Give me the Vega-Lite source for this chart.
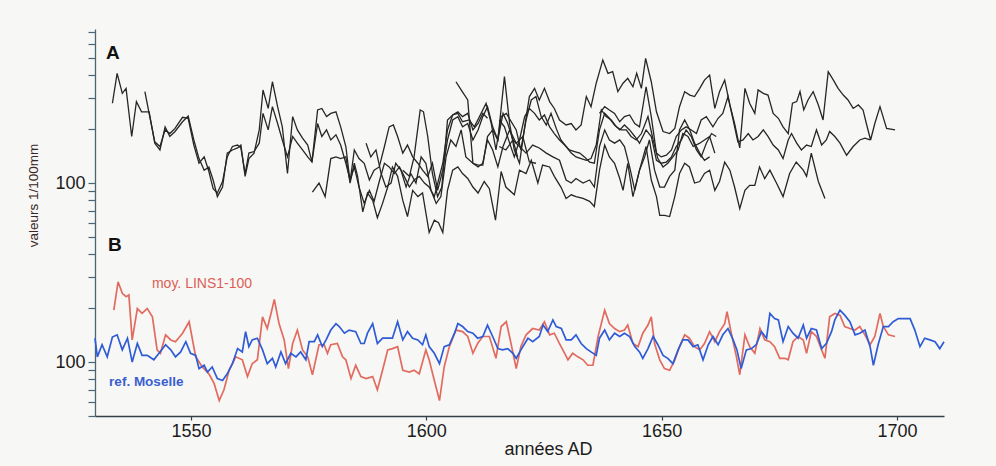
{
"$schema": "https://vega.github.io/schema/vega-lite/v6.json",
"width": 849, "height": 387,
"autosize": {"type": "none"},
"padding": {"left": 95, "top": 29, "right": 52, "bottom": 50},
"background": "#f7f7f5",
"config": {"font": "Liberation Sans", "view": {"stroke": null}},
"datasets": {
"ringsB": [
{"id":"LINS","year":1533.6,"val":195},{"id":"LINS","year":1534.5,"val":281},{"id":"LINS","year":1535.4,"val":242},{"id":"LINS","year":1536.2,"val":232},{"id":"LINS","year":1536.8,"val":237},{"id":"LINS","year":1537.5,"val":133},{"id":"LINS","year":1538.6,"val":199},{"id":"LINS","year":1539.6,"val":187},{"id":"LINS","year":1540.7,"val":199},{"id":"LINS","year":1541.8,"val":179},{"id":"LINS","year":1542.8,"val":117},{"id":"LINS","year":1543.5,"val":112},{"id":"LINS","year":1544.6,"val":142},{"id":"LINS","year":1545.7,"val":133},{"id":"LINS","year":1546.7,"val":130},{"id":"LINS","year":1548.2,"val":145},{"id":"LINS","year":1549.6,"val":168},{"id":"LINS","year":1551.0,"val":107},{"id":"LINS","year":1552.4,"val":94},{"id":"LINS","year":1553.8,"val":86},{"id":"LINS","year":1554.9,"val":76},{"id":"LINS","year":1556.0,"val":61},{"id":"LINS","year":1557.0,"val":70},{"id":"LINS","year":1558.1,"val":90},{"id":"LINS","year":1559.5,"val":107},{"id":"LINS","year":1560.9,"val":103},{"id":"LINS","year":1562.0,"val":83},{"id":"LINS","year":1563.0,"val":98},{"id":"LINS","year":1564.1,"val":103},{"id":"LINS","year":1565.2,"val":179},{"id":"LINS","year":1566.2,"val":154},{"id":"LINS","year":1567.0,"val":187},{"id":"LINS","year":1567.7,"val":224},{"id":"LINS","year":1568.7,"val":164},{"id":"LINS","year":1569.8,"val":133},{"id":"LINS","year":1570.7,"val":92},{"id":"LINS","year":1571.6,"val":127},{"id":"LINS","year":1572.6,"val":151},{"id":"LINS","year":1573.7,"val":117},{"id":"LINS","year":1574.8,"val":107},{"id":"LINS","year":1575.8,"val":85},{"id":"LINS","year":1577.2,"val":125},{"id":"LINS","year":1578.3,"val":125},{"id":"LINS","year":1579.0,"val":112},{"id":"LINS","year":1579.7,"val":125},{"id":"LINS","year":1581.1,"val":127},{"id":"LINS","year":1582.2,"val":107},{"id":"LINS","year":1582.9,"val":103},{"id":"LINS","year":1584.0,"val":81},{"id":"LINS","year":1585.0,"val":96},{"id":"LINS","year":1586.1,"val":83},{"id":"LINS","year":1587.2,"val":81},{"id":"LINS","year":1588.6,"val":83},{"id":"LINS","year":1589.6,"val":70},{"id":"LINS","year":1590.7,"val":90},{"id":"LINS","year":1591.8,"val":117},{"id":"LINS","year":1592.8,"val":119},{"id":"LINS","year":1593.9,"val":122},{"id":"LINS","year":1595.0,"val":90},{"id":"LINS","year":1596.4,"val":88},{"id":"LINS","year":1597.4,"val":90},{"id":"LINS","year":1598.5,"val":86},{"id":"LINS","year":1599.9,"val":117},{"id":"LINS","year":1600.6,"val":103},{"id":"LINS","year":1601.7,"val":79},{"id":"LINS","year":1602.8,"val":61},{"id":"LINS","year":1603.8,"val":94},{"id":"LINS","year":1604.9,"val":122},{"id":"LINS","year":1606.3,"val":151},{"id":"LINS","year":1607.7,"val":148},{"id":"LINS","year":1608.8,"val":139},{"id":"LINS","year":1609.9,"val":112},{"id":"LINS","year":1610.9,"val":127},{"id":"LINS","year":1612.0,"val":139},{"id":"LINS","year":1613.4,"val":139},{"id":"LINS","year":1614.8,"val":105},{"id":"LINS","year":1615.9,"val":158},{"id":"LINS","year":1617.0,"val":168},{"id":"LINS","year":1618.0,"val":127},{"id":"LINS","year":1619.1,"val":92},{"id":"LINS","year":1620.1,"val":122},{"id":"LINS","year":1621.2,"val":142},{"id":"LINS","year":1622.6,"val":154},{"id":"LINS","year":1624.0,"val":151},{"id":"LINS","year":1625.1,"val":168},{"id":"LINS","year":1626.2,"val":142},{"id":"LINS","year":1627.2,"val":145},{"id":"LINS","year":1628.3,"val":127},{"id":"LINS","year":1629.4,"val":112},{"id":"LINS","year":1630.1,"val":103},{"id":"LINS","year":1631.1,"val":112},{"id":"LINS","year":1632.2,"val":107},{"id":"LINS","year":1633.3,"val":103},{"id":"LINS","year":1634.3,"val":96},{"id":"LINS","year":1635.4,"val":96},{"id":"LINS","year":1636.5,"val":139},{"id":"LINS","year":1637.9,"val":195},{"id":"LINS","year":1638.9,"val":164},{"id":"LINS","year":1640.0,"val":154},{"id":"LINS","year":1641.1,"val":148},{"id":"LINS","year":1642.1,"val":151},{"id":"LINS","year":1642.8,"val":161},{"id":"LINS","year":1643.9,"val":127},{"id":"LINS","year":1645.0,"val":122},{"id":"LINS","year":1646.0,"val":145},{"id":"LINS","year":1647.1,"val":161},{"id":"LINS","year":1647.8,"val":179},{"id":"LINS","year":1648.5,"val":127},{"id":"LINS","year":1649.6,"val":103},{"id":"LINS","year":1650.6,"val":92},{"id":"LINS","year":1651.7,"val":90},{"id":"LINS","year":1652.8,"val":103},{"id":"LINS","year":1653.8,"val":122},{"id":"LINS","year":1654.9,"val":142},{"id":"LINS","year":1655.9,"val":136},{"id":"LINS","year":1657.0,"val":122},{"id":"LINS","year":1658.1,"val":117},{"id":"LINS","year":1659.1,"val":127},{"id":"LINS","year":1660.2,"val":148},{"id":"LINS","year":1661.3,"val":130},{"id":"LINS","year":1662.3,"val":148},{"id":"LINS","year":1663.4,"val":164},{"id":"LINS","year":1663.9,"val":191},{"id":"LINS","year":1664.8,"val":145},{"id":"LINS","year":1665.9,"val":107},{"id":"LINS","year":1666.6,"val":85},{"id":"LINS","year":1667.7,"val":142},{"id":"LINS","year":1668.7,"val":122},{"id":"LINS","year":1669.8,"val":112},{"id":"LINS","year":1670.9,"val":154},{"id":"LINS","year":1671.9,"val":133},{"id":"LINS","year":1673.0,"val":130},{"id":"LINS","year":1674.0,"val":122},{"id":"LINS","year":1675.1,"val":105},{"id":"LINS","year":1676.2,"val":105},{"id":"LINS","year":1676.9,"val":103},{"id":"LINS","year":1677.9,"val":130},{"id":"LINS","year":1679.0,"val":139},{"id":"LINS","year":1680.1,"val":133},{"id":"LINS","year":1680.8,"val":112},{"id":"LINS","year":1681.8,"val":148},{"id":"LINS","year":1682.9,"val":139},{"id":"LINS","year":1684.0,"val":117},{"id":"LINS","year":1684.7,"val":105},{"id":"LINS","year":1685.7,"val":179},{"id":"LINS","year":1686.8,"val":187},{"id":"LINS","year":1687.9,"val":183},{"id":"LINS","year":1688.9,"val":158},{"id":"LINS","year":1690.0,"val":154},{"id":"LINS","year":1691.1,"val":151},{"id":"LINS","year":1692.1,"val":158},{"id":"LINS","year":1693.2,"val":142},{"id":"LINS","year":1694.3,"val":125},{"id":"LINS","year":1695.3,"val":139},{"id":"LINS","year":1696.4,"val":187},{"id":"LINS","year":1697.1,"val":158},{"id":"LINS","year":1698.2,"val":142},{"id":"LINS","year":1699.6,"val":139},
{"id":"Moselle","year":1529.6,"val":136},{"id":"Moselle","year":1530.1,"val":107},{"id":"Moselle","year":1531.1,"val":125},{"id":"Moselle","year":1532.2,"val":107},{"id":"Moselle","year":1533.3,"val":138},{"id":"Moselle","year":1534.3,"val":142},{"id":"Moselle","year":1535.4,"val":117},{"id":"Moselle","year":1536.5,"val":136},{"id":"Moselle","year":1537.5,"val":100},{"id":"Moselle","year":1538.6,"val":127},{"id":"Moselle","year":1539.6,"val":109},{"id":"Moselle","year":1540.7,"val":109},{"id":"Moselle","year":1542.1,"val":103},{"id":"Moselle","year":1543.2,"val":112},{"id":"Moselle","year":1544.6,"val":125},{"id":"Moselle","year":1545.7,"val":117},{"id":"Moselle","year":1546.7,"val":107},{"id":"Moselle","year":1547.8,"val":114},{"id":"Moselle","year":1548.9,"val":130},{"id":"Moselle","year":1549.9,"val":112},{"id":"Moselle","year":1551.0,"val":109},{"id":"Moselle","year":1551.7,"val":92},{"id":"Moselle","year":1552.8,"val":96},{"id":"Moselle","year":1553.5,"val":88},{"id":"Moselle","year":1554.5,"val":94},{"id":"Moselle","year":1555.6,"val":81},{"id":"Moselle","year":1556.7,"val":79},{"id":"Moselle","year":1557.7,"val":86},{"id":"Moselle","year":1558.8,"val":98},{"id":"Moselle","year":1559.9,"val":119},{"id":"Moselle","year":1560.9,"val":114},{"id":"Moselle","year":1561.6,"val":148},{"id":"Moselle","year":1562.3,"val":122},{"id":"Moselle","year":1563.0,"val":133},{"id":"Moselle","year":1564.1,"val":136},{"id":"Moselle","year":1565.2,"val":117},{"id":"Moselle","year":1566.2,"val":98},{"id":"Moselle","year":1567.3,"val":105},{"id":"Moselle","year":1568.0,"val":94},{"id":"Moselle","year":1569.1,"val":114},{"id":"Moselle","year":1570.1,"val":98},{"id":"Moselle","year":1571.2,"val":112},{"id":"Moselle","year":1572.3,"val":107},{"id":"Moselle","year":1573.3,"val":114},{"id":"Moselle","year":1574.4,"val":103},{"id":"Moselle","year":1575.1,"val":130},{"id":"Moselle","year":1576.2,"val":130},{"id":"Moselle","year":1576.9,"val":142},{"id":"Moselle","year":1577.9,"val":122},{"id":"Moselle","year":1578.7,"val":133},{"id":"Moselle","year":1579.7,"val":151},{"id":"Moselle","year":1580.8,"val":164},{"id":"Moselle","year":1581.5,"val":158},{"id":"Moselle","year":1582.6,"val":145},{"id":"Moselle","year":1583.6,"val":151},{"id":"Moselle","year":1585.0,"val":148},{"id":"Moselle","year":1586.1,"val":127},{"id":"Moselle","year":1586.8,"val":127},{"id":"Moselle","year":1587.5,"val":145},{"id":"Moselle","year":1588.6,"val":164},{"id":"Moselle","year":1589.6,"val":127},{"id":"Moselle","year":1590.7,"val":136},{"id":"Moselle","year":1591.8,"val":136},{"id":"Moselle","year":1592.8,"val":136},{"id":"Moselle","year":1593.9,"val":168},{"id":"Moselle","year":1595.0,"val":133},{"id":"Moselle","year":1596.0,"val":148},{"id":"Moselle","year":1597.1,"val":136},{"id":"Moselle","year":1598.2,"val":133},{"id":"Moselle","year":1599.2,"val":125},{"id":"Moselle","year":1599.9,"val":142},{"id":"Moselle","year":1600.6,"val":122},{"id":"Moselle","year":1601.7,"val":112},{"id":"Moselle","year":1602.8,"val":98},{"id":"Moselle","year":1603.8,"val":122},{"id":"Moselle","year":1604.9,"val":125},{"id":"Moselle","year":1606.0,"val":145},{"id":"Moselle","year":1606.7,"val":164},{"id":"Moselle","year":1607.7,"val":158},{"id":"Moselle","year":1608.8,"val":148},{"id":"Moselle","year":1609.9,"val":145},{"id":"Moselle","year":1610.9,"val":136},{"id":"Moselle","year":1612.0,"val":139},{"id":"Moselle","year":1613.0,"val":161},{"id":"Moselle","year":1614.1,"val":139},{"id":"Moselle","year":1615.2,"val":119},{"id":"Moselle","year":1616.2,"val":117},{"id":"Moselle","year":1617.3,"val":119},{"id":"Moselle","year":1618.4,"val":112},{"id":"Moselle","year":1619.1,"val":105},{"id":"Moselle","year":1620.1,"val":117},{"id":"Moselle","year":1621.6,"val":136},{"id":"Moselle","year":1622.6,"val":130},{"id":"Moselle","year":1624.0,"val":139},{"id":"Moselle","year":1624.8,"val":161},{"id":"Moselle","year":1625.8,"val":148},{"id":"Moselle","year":1626.9,"val":172},{"id":"Moselle","year":1627.6,"val":158},{"id":"Moselle","year":1628.7,"val":154},{"id":"Moselle","year":1629.7,"val":133},{"id":"Moselle","year":1630.8,"val":133},{"id":"Moselle","year":1631.8,"val":142},{"id":"Moselle","year":1632.9,"val":127},{"id":"Moselle","year":1634.0,"val":119},{"id":"Moselle","year":1635.0,"val":114},{"id":"Moselle","year":1636.1,"val":109},{"id":"Moselle","year":1636.8,"val":136},{"id":"Moselle","year":1637.9,"val":151},{"id":"Moselle","year":1638.9,"val":133},{"id":"Moselle","year":1640.0,"val":145},{"id":"Moselle","year":1641.1,"val":139},{"id":"Moselle","year":1642.1,"val":145},{"id":"Moselle","year":1643.2,"val":139},{"id":"Moselle","year":1644.3,"val":122},{"id":"Moselle","year":1645.3,"val":114},{"id":"Moselle","year":1646.0,"val":105},{"id":"Moselle","year":1647.1,"val":119},{"id":"Moselle","year":1648.2,"val":139},{"id":"Moselle","year":1649.2,"val":125},{"id":"Moselle","year":1650.3,"val":109},{"id":"Moselle","year":1651.3,"val":105},{"id":"Moselle","year":1652.4,"val":98},{"id":"Moselle","year":1653.5,"val":117},{"id":"Moselle","year":1654.5,"val":133},{"id":"Moselle","year":1655.6,"val":133},{"id":"Moselle","year":1656.7,"val":122},{"id":"Moselle","year":1657.7,"val":125},{"id":"Moselle","year":1658.8,"val":103},{"id":"Moselle","year":1659.9,"val":125},{"id":"Moselle","year":1660.9,"val":139},{"id":"Moselle","year":1662.0,"val":125},{"id":"Moselle","year":1663.0,"val":142},{"id":"Moselle","year":1664.1,"val":154},{"id":"Moselle","year":1665.2,"val":133},{"id":"Moselle","year":1666.0,"val":117},{"id":"Moselle","year":1666.9,"val":92},{"id":"Moselle","year":1668.0,"val":117},{"id":"Moselle","year":1669.1,"val":119},{"id":"Moselle","year":1670.1,"val":125},{"id":"Moselle","year":1671.2,"val":148},{"id":"Moselle","year":1672.3,"val":136},{"id":"Moselle","year":1673.0,"val":187},{"id":"Moselle","year":1674.0,"val":175},{"id":"Moselle","year":1674.8,"val":172},{"id":"Moselle","year":1675.8,"val":130},{"id":"Moselle","year":1676.9,"val":158},{"id":"Moselle","year":1677.9,"val":145},{"id":"Moselle","year":1679.0,"val":136},{"id":"Moselle","year":1680.1,"val":161},{"id":"Moselle","year":1680.8,"val":136},{"id":"Moselle","year":1681.8,"val":154},{"id":"Moselle","year":1682.9,"val":151},{"id":"Moselle","year":1684.0,"val":119},{"id":"Moselle","year":1685.0,"val":127},{"id":"Moselle","year":1686.1,"val":148},{"id":"Moselle","year":1686.8,"val":172},{"id":"Moselle","year":1687.9,"val":195},{"id":"Moselle","year":1688.9,"val":183},{"id":"Moselle","year":1690.0,"val":168},{"id":"Moselle","year":1691.1,"val":142},{"id":"Moselle","year":1692.1,"val":145},{"id":"Moselle","year":1693.2,"val":151},{"id":"Moselle","year":1694.3,"val":122},{"id":"Moselle","year":1695.0,"val":96},{"id":"Moselle","year":1696.0,"val":125},{"id":"Moselle","year":1697.1,"val":158},{"id":"Moselle","year":1698.2,"val":158},{"id":"Moselle","year":1699.2,"val":168},{"id":"Moselle","year":1700.3,"val":175},{"id":"Moselle","year":1701.7,"val":175},{"id":"Moselle","year":1702.8,"val":175},{"id":"Moselle","year":1703.8,"val":151},{"id":"Moselle","year":1704.9,"val":122},{"id":"Moselle","year":1705.9,"val":136},{"id":"Moselle","year":1707.0,"val":133},{"id":"Moselle","year":1708.1,"val":130},{"id":"Moselle","year":1709.1,"val":119},{"id":"Moselle","year":1710.0,"val":130}
],
"ringsA": [
{"id":"A1","year":1533.3,"val":279},{"id":"A1","year":1534.3,"val":410},{"id":"A1","year":1535.4,"val":317},{"id":"A1","year":1536.2,"val":338},{"id":"A1","year":1537.4,"val":182},{"id":"A1","year":1538.4,"val":285},{"id":"A1","year":1539.5,"val":250},{"id":"A1","year":1541.1,"val":250},{"id":"A1","year":1542.3,"val":167},{"id":"A1","year":1543.4,"val":153},{"id":"A1","year":1544.5,"val":206},{"id":"A1","year":1545.5,"val":182},{"id":"A1","year":1546.6,"val":194},{"id":"A1","year":1548.2,"val":220},{"id":"A1","year":1549.4,"val":237},{"id":"A1","year":1550.6,"val":174},{"id":"A1","year":1551.7,"val":137},{"id":"A1","year":1552.8,"val":118},{"id":"A1","year":1553.8,"val":123},{"id":"A1","year":1554.7,"val":104},{"id":"A1","year":1555.6,"val":84},{"id":"A1","year":1556.7,"val":95},{"id":"A1","year":1557.7,"val":147},{"id":"A1","year":1558.8,"val":153},{"id":"A1","year":1559.9,"val":157},{"id":"A1","year":1560.6,"val":163},{"id":"A1","year":1561.5,"val":109},{"id":"A1","year":1562.3,"val":137},{"id":"A1","year":1563.4,"val":147},{"id":"A1","year":1564.5,"val":198},{"id":"A1","year":1565.3,"val":331},{"id":"A1","year":1566.4,"val":261},{"id":"A1","year":1567.3,"val":368},{"id":"A1","year":1568.4,"val":267},{"id":"A1","year":1569.4,"val":206},{"id":"A1","year":1570.5,"val":113},{"id":"A1","year":1571.6,"val":235},{"id":"A1","year":1572.6,"val":198},{"id":"A1","year":1573.7,"val":178},{"id":"A1","year":1574.8,"val":163},{"id":"A1","year":1575.7,"val":131},{"id":"A1","year":1576.9,"val":256},{"id":"A1","year":1577.8,"val":261},{"id":"A1","year":1578.8,"val":235},{"id":"A1","year":1579.7,"val":245},{"id":"A1","year":1580.8,"val":250},{"id":"A1","year":1581.8,"val":206},{"id":"A1","year":1582.9,"val":160},{"id":"A1","year":1583.8,"val":102},{"id":"A1","year":1584.7,"val":153},{"id":"A1","year":1585.7,"val":137},{"id":"A1","year":1586.8,"val":129},{"id":"A1","year":1587.9,"val":104},{"id":"A1","year":1588.9,"val":118},{"id":"A1","year":1590.0,"val":123},{"id":"A1","year":1591.1,"val":160},{"id":"A1","year":1592.1,"val":206},{"id":"A1","year":1593.0,"val":211},{"id":"A1","year":1593.9,"val":182},{"id":"A1","year":1595.0,"val":147},{"id":"A1","year":1596.0,"val":163},{"id":"A1","year":1597.1,"val":140},{"id":"A1","year":1598.2,"val":129},{"id":"A1","year":1599.2,"val":118},{"id":"A1","year":1600.3,"val":109},{"id":"A1","year":1601.3,"val":129},{"id":"A1","year":1602.4,"val":91},{"id":"A1","year":1603.5,"val":118},{"id":"A1","year":1604.5,"val":174},{"id":"A1","year":1605.6,"val":225},{"id":"A1","year":1606.7,"val":235},{"id":"A1","year":1607.7,"val":206},{"id":"A1","year":1608.8,"val":215},{"id":"A1","year":1609.9,"val":174},{"id":"A1","year":1611.0,"val":198},{"id":"A1","year":1612.0,"val":235},{"id":"A1","year":1613.0,"val":267},{"id":"A1","year":1614.1,"val":206},{"id":"A1","year":1615.2,"val":174},{"id":"A1","year":1616.3,"val":245},{"id":"A1","year":1617.3,"val":215},{"id":"A1","year":1618.4,"val":174},{"id":"A1","year":1619.4,"val":140},
{"id":"A2","year":1540.2,"val":324},{"id":"A2","year":1541.1,"val":245},{"id":"A2","year":1542.3,"val":170},{"id":"A2","year":1543.4,"val":160},{"id":"A2","year":1544.5,"val":198},{"id":"A2","year":1545.5,"val":189},{"id":"A2","year":1546.6,"val":202},{"id":"A2","year":1548.2,"val":233},{"id":"A2","year":1549.4,"val":230},{"id":"A2","year":1550.6,"val":163},{"id":"A2","year":1551.7,"val":129},{"id":"A2","year":1552.8,"val":140},{"id":"A2","year":1553.8,"val":116},{"id":"A2","year":1554.7,"val":93},{"id":"A2","year":1555.6,"val":88},{"id":"A2","year":1556.7,"val":102},{"id":"A2","year":1557.7,"val":140},{"id":"A2","year":1558.8,"val":160},{"id":"A2","year":1559.9,"val":163},{"id":"A2","year":1560.6,"val":157},{"id":"A2","year":1561.5,"val":113},{"id":"A2","year":1562.3,"val":147},{"id":"A2","year":1563.4,"val":150},{"id":"A2","year":1564.5,"val":167},{"id":"A2","year":1565.3,"val":245},{"id":"A2","year":1566.4,"val":198},{"id":"A2","year":1567.3,"val":267},{"id":"A2","year":1568.4,"val":215},{"id":"A2","year":1569.4,"val":174},{"id":"A2","year":1570.5,"val":140},{"id":"A2","year":1571.6,"val":182},{"id":"A2","year":1572.6,"val":167},{"id":"A2","year":1573.7,"val":153},{"id":"A2","year":1574.8,"val":140},{"id":"A2","year":1575.7,"val":131},{"id":"A2","year":1576.9,"val":215},{"id":"A2","year":1577.8,"val":182},{"id":"A2","year":1578.8,"val":198},{"id":"A2","year":1579.7,"val":174},{"id":"A2","year":1580.8,"val":186},{"id":"A2","year":1581.8,"val":163},{"id":"A2","year":1582.9,"val":129},{"id":"A2","year":1583.8,"val":104},{"id":"A2","year":1584.7,"val":123},{"id":"A2","year":1585.7,"val":95},{"id":"A2","year":1586.8,"val":77},{"id":"A2","year":1587.9,"val":91},{"id":"A2","year":1588.9,"val":79},{"id":"A2","year":1590.0,"val":102},{"id":"A2","year":1591.1,"val":129},{"id":"A2","year":1592.1,"val":123},{"id":"A2","year":1593.2,"val":113},{"id":"A2","year":1594.3,"val":123},{"id":"A2","year":1595.3,"val":109},{"id":"A2","year":1596.4,"val":95},{"id":"A2","year":1597.4,"val":104},{"id":"A2","year":1598.5,"val":109},{"id":"A2","year":1599.6,"val":100},{"id":"A2","year":1600.6,"val":95},{"id":"A2","year":1601.7,"val":84},{"id":"A2","year":1602.6,"val":104},{"id":"A2","year":1603.5,"val":129},{"id":"A2","year":1604.5,"val":198},{"id":"A2","year":1605.6,"val":240},{"id":"A2","year":1606.7,"val":250},{"id":"A2","year":1607.7,"val":235},{"id":"A2","year":1608.8,"val":245},{"id":"A2","year":1609.9,"val":198},{"id":"A2","year":1611.0,"val":215},{"id":"A2","year":1612.0,"val":245},{"id":"A2","year":1613.0,"val":230},
{"id":"A3","year":1575.8,"val":89},{"id":"A3","year":1577.2,"val":100},{"id":"A3","year":1578.5,"val":84},{"id":"A3","year":1579.7,"val":137},{"id":"A3","year":1580.8,"val":140},{"id":"A3","year":1581.8,"val":137},{"id":"A3","year":1582.9,"val":140},{"id":"A3","year":1583.8,"val":100},{"id":"A3","year":1584.7,"val":129},{"id":"A3","year":1585.4,"val":109},{"id":"A3","year":1586.5,"val":69},{"id":"A3","year":1587.5,"val":88},{"id":"A3","year":1588.6,"val":80},{"id":"A3","year":1589.6,"val":64},{"id":"A3","year":1590.7,"val":77},{"id":"A3","year":1591.8,"val":95},{"id":"A3","year":1592.8,"val":123},{"id":"A3","year":1593.9,"val":109},{"id":"A3","year":1595.0,"val":80},{"id":"A3","year":1596.0,"val":65},{"id":"A3","year":1597.1,"val":91},{"id":"A3","year":1598.2,"val":84},{"id":"A3","year":1599.2,"val":88},{"id":"A3","year":1600.6,"val":53},{"id":"A3","year":1601.7,"val":62},{"id":"A3","year":1602.6,"val":60},{"id":"A3","year":1603.5,"val":53},{"id":"A3","year":1604.5,"val":91},{"id":"A3","year":1605.6,"val":118},{"id":"A3","year":1606.7,"val":123},{"id":"A3","year":1607.7,"val":113},{"id":"A3","year":1608.8,"val":106},{"id":"A3","year":1609.9,"val":95},{"id":"A3","year":1611.0,"val":88},{"id":"A3","year":1612.3,"val":102},{"id":"A3","year":1613.4,"val":93},{"id":"A3","year":1614.7,"val":62},{"id":"A3","year":1615.9,"val":116},{"id":"A3","year":1616.9,"val":95},{"id":"A3","year":1618.7,"val":86},{"id":"A3","year":1619.8,"val":118},{"id":"A3","year":1621.2,"val":113},{"id":"A3","year":1622.3,"val":134},{"id":"A3","year":1623.7,"val":100},{"id":"A3","year":1624.7,"val":126},{"id":"A3","year":1626.2,"val":123},{"id":"A3","year":1627.2,"val":109},{"id":"A3","year":1628.6,"val":95},{"id":"A3","year":1629.7,"val":82},{"id":"A3","year":1630.8,"val":86},{"id":"A3","year":1631.8,"val":84},{"id":"A3","year":1633.3,"val":82},{"id":"A3","year":1634.7,"val":79},{"id":"A3","year":1635.7,"val":74},{"id":"A3","year":1636.8,"val":118},{"id":"A3","year":1637.9,"val":163},{"id":"A3","year":1638.9,"val":140},{"id":"A3","year":1640.0,"val":129},{"id":"A3","year":1641.1,"val":106},{"id":"A3","year":1641.8,"val":91},{"id":"A3","year":1642.8,"val":129},{"id":"A3","year":1643.9,"val":84},{"id":"A3","year":1645.3,"val":118},{"id":"A3","year":1646.7,"val":160},{"id":"A3","year":1647.8,"val":104},{"id":"A3","year":1648.9,"val":84},{"id":"A3","year":1649.6,"val":66},{"id":"A3","year":1650.6,"val":66},{"id":"A3","year":1651.7,"val":65},{"id":"A3","year":1652.8,"val":84},{"id":"A3","year":1653.8,"val":113},{"id":"A3","year":1654.9,"val":129},{"id":"A3","year":1655.9,"val":123},{"id":"A3","year":1657.0,"val":100},{"id":"A3","year":1658.1,"val":102},{"id":"A3","year":1659.1,"val":113},{"id":"A3","year":1660.2,"val":118},{"id":"A3","year":1661.3,"val":91},{"id":"A3","year":1662.3,"val":102},{"id":"A3","year":1663.4,"val":131},{"id":"A3","year":1664.5,"val":118},{"id":"A3","year":1665.5,"val":95},{"id":"A3","year":1666.6,"val":72},{"id":"A3","year":1667.7,"val":91},{"id":"A3","year":1668.7,"val":97},{"id":"A3","year":1669.8,"val":97},{"id":"A3","year":1670.8,"val":123},{"id":"A3","year":1671.9,"val":106},{"id":"A3","year":1673.0,"val":118},{"id":"A3","year":1674.4,"val":100},{"id":"A3","year":1675.8,"val":84},{"id":"A3","year":1677.2,"val":113},{"id":"A3","year":1678.6,"val":131},{"id":"A3","year":1680.1,"val":118},{"id":"A3","year":1680.8,"val":109},{"id":"A3","year":1681.8,"val":147},{"id":"A3","year":1683.3,"val":102},{"id":"A3","year":1684.7,"val":82},
{"id":"A4","year":1587.2,"val":167},{"id":"A4","year":1588.2,"val":140},{"id":"A4","year":1589.3,"val":153},{"id":"A4","year":1590.4,"val":113},{"id":"A4","year":1591.4,"val":95},{"id":"A4","year":1592.5,"val":100},{"id":"A4","year":1593.5,"val":129},{"id":"A4","year":1594.6,"val":118},{"id":"A4","year":1595.7,"val":95},{"id":"A4","year":1596.7,"val":113},{"id":"A4","year":1597.8,"val":100},{"id":"A4","year":1598.9,"val":140},{"id":"A4","year":1599.9,"val":129},{"id":"A4","year":1601.0,"val":91},{"id":"A4","year":1602.1,"val":77},{"id":"A4","year":1603.1,"val":84},{"id":"A4","year":1604.2,"val":140},{"id":"A4","year":1605.2,"val":174},{"id":"A4","year":1606.3,"val":160},{"id":"A4","year":1607.4,"val":198},{"id":"A4","year":1608.4,"val":140},{"id":"A4","year":1609.9,"val":129},{"id":"A4","year":1611.0,"val":123},{"id":"A4","year":1612.0,"val":129},{"id":"A4","year":1613.0,"val":174},{"id":"A4","year":1614.1,"val":153},{"id":"A4","year":1615.2,"val":123},{"id":"A4","year":1616.3,"val":160},{"id":"A4","year":1617.7,"val":198},{"id":"A4","year":1619.1,"val":167},{"id":"A4","year":1620.5,"val":182},{"id":"A4","year":1621.9,"val":131},{"id":"A4","year":1623.3,"val":129},
{"id":"A5","year":1606.3,"val":368},{"id":"A5","year":1607.4,"val":331},{"id":"A5","year":1608.8,"val":291},{"id":"A5","year":1609.9,"val":129},{"id":"A5","year":1611.0,"val":126},{"id":"A5","year":1612.0,"val":126},{"id":"A5","year":1613.0,"val":182},{"id":"A5","year":1614.1,"val":198},{"id":"A5","year":1615.2,"val":174},{"id":"A5","year":1616.6,"val":393},{"id":"A5","year":1617.7,"val":215},{"id":"A5","year":1618.7,"val":153},{"id":"A5","year":1619.8,"val":129},{"id":"A5","year":1620.9,"val":206},{"id":"A5","year":1621.9,"val":304},{"id":"A5","year":1623.0,"val":338},{"id":"A5","year":1624.0,"val":291},{"id":"A5","year":1625.1,"val":338},{"id":"A5","year":1626.2,"val":285},{"id":"A5","year":1627.2,"val":261},{"id":"A5","year":1628.3,"val":225},{"id":"A5","year":1629.7,"val":211},{"id":"A5","year":1630.8,"val":215},{"id":"A5","year":1631.8,"val":198},{"id":"A5","year":1632.9,"val":211},{"id":"A5","year":1634.0,"val":304},{"id":"A5","year":1635.0,"val":267},{"id":"A5","year":1636.1,"val":361},{"id":"A5","year":1637.5,"val":487},{"id":"A5","year":1638.6,"val":410},{"id":"A5","year":1639.6,"val":419},{"id":"A5","year":1640.7,"val":324},{"id":"A5","year":1641.8,"val":361},{"id":"A5","year":1642.8,"val":384},{"id":"A5","year":1643.9,"val":345},{"id":"A5","year":1644.7,"val":410},{"id":"A5","year":1645.7,"val":338},{"id":"A5","year":1646.6,"val":497},{"id":"A5","year":1647.8,"val":368},{"id":"A5","year":1648.9,"val":250},{"id":"A5","year":1650.3,"val":194},{"id":"A5","year":1651.7,"val":189},{"id":"A5","year":1652.8,"val":202},{"id":"A5","year":1653.8,"val":267},{"id":"A5","year":1654.9,"val":324},{"id":"A5","year":1656.0,"val":310},{"id":"A5","year":1657.0,"val":304},{"id":"A5","year":1658.1,"val":338},{"id":"A5","year":1659.1,"val":376},{"id":"A5","year":1660.2,"val":401},{"id":"A5","year":1661.3,"val":261},{"id":"A5","year":1662.3,"val":324},{"id":"A5","year":1663.4,"val":376},{"id":"A5","year":1664.5,"val":273},{"id":"A5","year":1665.5,"val":215},{"id":"A5","year":1666.6,"val":157},{"id":"A5","year":1667.7,"val":338},{"id":"A5","year":1668.7,"val":279},{"id":"A5","year":1669.8,"val":245},{"id":"A5","year":1670.5,"val":331},{"id":"A5","year":1671.6,"val":317},{"id":"A5","year":1672.6,"val":310},{"id":"A5","year":1673.7,"val":245},{"id":"A5","year":1674.8,"val":230},{"id":"A5","year":1675.8,"val":206},{"id":"A5","year":1676.9,"val":189},{"id":"A5","year":1677.8,"val":279},{"id":"A5","year":1678.7,"val":285},{"id":"A5","year":1679.4,"val":324},{"id":"A5","year":1680.2,"val":256},{"id":"A5","year":1681.1,"val":291},{"id":"A5","year":1682.2,"val":324},{"id":"A5","year":1683.3,"val":273},{"id":"A5","year":1684.3,"val":225},{"id":"A5","year":1685.4,"val":419},{"id":"A5","year":1686.5,"val":376},{"id":"A5","year":1687.5,"val":338},{"id":"A5","year":1688.6,"val":310},{"id":"A5","year":1689.6,"val":291},{"id":"A5","year":1690.7,"val":261},{"id":"A5","year":1691.8,"val":273},{"id":"A5","year":1692.8,"val":256},{"id":"A5","year":1693.5,"val":215},{"id":"A5","year":1694.4,"val":174},{"id":"A5","year":1695.3,"val":215},{"id":"A5","year":1696.4,"val":267},{"id":"A5","year":1697.8,"val":202},{"id":"A5","year":1699.6,"val":198},
{"id":"A6","year":1595.0,"val":118},{"id":"A6","year":1596.4,"val":109},{"id":"A6","year":1597.4,"val":140},{"id":"A6","year":1598.7,"val":256},{"id":"A6","year":1599.4,"val":250},{"id":"A6","year":1600.3,"val":182},{"id":"A6","year":1601.3,"val":113},{"id":"A6","year":1602.4,"val":84},{"id":"A6","year":1603.3,"val":95},{"id":"A6","year":1604.5,"val":225},{"id":"A6","year":1605.6,"val":240},{"id":"A6","year":1606.7,"val":245},{"id":"A6","year":1607.7,"val":220},{"id":"A6","year":1609.1,"val":225},{"id":"A6","year":1610.2,"val":206},{"id":"A6","year":1611.3,"val":235},{"id":"A6","year":1612.7,"val":279},{"id":"A6","year":1613.8,"val":215},{"id":"A6","year":1614.8,"val":153},{"id":"A6","year":1615.9,"val":235},{"id":"A6","year":1617.0,"val":245},{"id":"A6","year":1619.1,"val":198},{"id":"A6","year":1620.1,"val":153},{"id":"A6","year":1621.2,"val":225},{"id":"A6","year":1622.3,"val":291},{"id":"A6","year":1623.3,"val":304},{"id":"A6","year":1624.4,"val":235},{"id":"A6","year":1625.5,"val":211},{"id":"A6","year":1626.5,"val":245},{"id":"A6","year":1627.6,"val":202},{"id":"A6","year":1628.6,"val":174},{"id":"A6","year":1629.7,"val":160},{"id":"A6","year":1630.8,"val":147},{"id":"A6","year":1631.8,"val":140},{"id":"A6","year":1632.9,"val":137},{"id":"A6","year":1634.0,"val":134},{"id":"A6","year":1635.0,"val":137},{"id":"A6","year":1636.1,"val":163},{"id":"A6","year":1637.2,"val":256},{"id":"A6","year":1638.2,"val":235},{"id":"A6","year":1639.3,"val":225},{"id":"A6","year":1640.4,"val":206},{"id":"A6","year":1641.4,"val":198},{"id":"A6","year":1642.5,"val":198},{"id":"A6","year":1643.5,"val":182},{"id":"A6","year":1644.6,"val":174},{"id":"A6","year":1645.7,"val":189},{"id":"A6","year":1647.1,"val":235},{"id":"A6","year":1648.2,"val":174},{"id":"A6","year":1649.2,"val":137},{"id":"A6","year":1650.3,"val":123},{"id":"A6","year":1651.3,"val":129},{"id":"A6","year":1652.4,"val":140},{"id":"A6","year":1653.5,"val":153},{"id":"A6","year":1654.5,"val":189},{"id":"A6","year":1655.6,"val":182},{"id":"A6","year":1656.7,"val":160},{"id":"A6","year":1658.1,"val":167},{"id":"A6","year":1659.1,"val":174},{"id":"A6","year":1660.2,"val":182},{"id":"A6","year":1661.3,"val":147},
{"id":"A7","year":1636.8,"val":245},{"id":"A7","year":1637.9,"val":267},{"id":"A7","year":1638.9,"val":256},{"id":"A7","year":1640.0,"val":245},{"id":"A7","year":1641.1,"val":220},{"id":"A7","year":1642.1,"val":235},{"id":"A7","year":1643.2,"val":240},{"id":"A7","year":1644.3,"val":215},{"id":"A7","year":1645.3,"val":206},{"id":"A7","year":1646.7,"val":345},{"id":"A7","year":1647.8,"val":235},{"id":"A7","year":1648.9,"val":147},{"id":"A7","year":1649.9,"val":140},{"id":"A7","year":1651.0,"val":143},{"id":"A7","year":1652.1,"val":153},{"id":"A7","year":1653.1,"val":182},{"id":"A7","year":1654.2,"val":198},{"id":"A7","year":1655.2,"val":206},{"id":"A7","year":1656.3,"val":198},{"id":"A7","year":1657.4,"val":189},{"id":"A7","year":1658.4,"val":225},{"id":"A7","year":1659.5,"val":235},{"id":"A7","year":1660.9,"val":206},{"id":"A7","year":1662.0,"val":230},{"id":"A7","year":1663.0,"val":245},{"id":"A7","year":1664.1,"val":304},{"id":"A7","year":1665.2,"val":225},{"id":"A7","year":1666.2,"val":170},{"id":"A7","year":1667.3,"val":174},{"id":"A7","year":1668.4,"val":189},{"id":"A7","year":1669.4,"val":174},{"id":"A7","year":1670.5,"val":182},{"id":"A7","year":1671.6,"val":198},{"id":"A7","year":1672.6,"val":182},{"id":"A7","year":1673.7,"val":163},{"id":"A7","year":1674.8,"val":153},{"id":"A7","year":1675.8,"val":137},{"id":"A7","year":1676.9,"val":174},{"id":"A7","year":1677.6,"val":189},{"id":"A7","year":1678.7,"val":167},{"id":"A7","year":1679.7,"val":153},{"id":"A7","year":1680.8,"val":163},{"id":"A7","year":1681.8,"val":160},{"id":"A7","year":1682.9,"val":198},{"id":"A7","year":1684.0,"val":163},{"id":"A7","year":1685.0,"val":174},{"id":"A7","year":1685.7,"val":194},{"id":"A7","year":1686.8,"val":182},{"id":"A7","year":1687.9,"val":167},{"id":"A7","year":1689.3,"val":143},{"id":"A7","year":1690.7,"val":160},{"id":"A7","year":1692.1,"val":174},{"id":"A7","year":1693.2,"val":178},{"id":"A7","year":1694.3,"val":174},
{"id":"A8","year":1615.5,"val":225},{"id":"A8","year":1616.6,"val":206},{"id":"A8","year":1617.7,"val":167},{"id":"A8","year":1618.7,"val":140},{"id":"A8","year":1619.8,"val":174},{"id":"A8","year":1620.9,"val":235},{"id":"A8","year":1621.9,"val":261},{"id":"A8","year":1623.0,"val":245},{"id":"A8","year":1624.0,"val":225},{"id":"A8","year":1625.1,"val":240},{"id":"A8","year":1626.2,"val":206},{"id":"A8","year":1627.2,"val":189},{"id":"A8","year":1628.3,"val":174},{"id":"A8","year":1629.4,"val":163},{"id":"A8","year":1630.4,"val":153},{"id":"A8","year":1631.5,"val":150},{"id":"A8","year":1632.6,"val":147},{"id":"A8","year":1633.6,"val":140},{"id":"A8","year":1634.7,"val":131},{"id":"A8","year":1635.7,"val":129},{"id":"A8","year":1636.8,"val":198},{"id":"A8","year":1637.9,"val":245},{"id":"A8","year":1638.9,"val":230},{"id":"A8","year":1640.0,"val":211},{"id":"A8","year":1641.1,"val":198},{"id":"A8","year":1642.1,"val":211},{"id":"A8","year":1643.2,"val":198},{"id":"A8","year":1644.3,"val":182},{"id":"A8","year":1645.3,"val":167},{"id":"A8","year":1646.7,"val":198},{"id":"A8","year":1647.8,"val":182},{"id":"A8","year":1648.9,"val":134},{"id":"A8","year":1649.9,"val":129},{"id":"A8","year":1651.0,"val":131},{"id":"A8","year":1652.1,"val":140},{"id":"A8","year":1653.1,"val":160},{"id":"A8","year":1654.2,"val":174},{"id":"A8","year":1655.2,"val":198},{"id":"A8","year":1656.3,"val":182},{"id":"A8","year":1657.4,"val":153},{"id":"A8","year":1658.4,"val":140},{"id":"A8","year":1659.5,"val":167},{"id":"A8","year":1660.6,"val":189},{"id":"A8","year":1661.6,"val":182},
{"id":"A9","year":1615.5,"val":160},{"id":"A9","year":1616.9,"val":153},{"id":"A9","year":1618.4,"val":174},{"id":"A9","year":1619.8,"val":160},{"id":"A9","year":1621.2,"val":147},{"id":"A9","year":1622.6,"val":163},{"id":"A9","year":1624.0,"val":157},{"id":"A9","year":1625.5,"val":147},{"id":"A9","year":1626.9,"val":140},{"id":"A9","year":1628.3,"val":134},{"id":"A9","year":1629.7,"val":104},{"id":"A9","year":1630.8,"val":100},{"id":"A9","year":1631.8,"val":106},{"id":"A9","year":1633.3,"val":100},{"id":"A9","year":1634.7,"val":104},{"id":"A9","year":1635.7,"val":95},{"id":"A9","year":1636.8,"val":160},{"id":"A9","year":1637.9,"val":198},{"id":"A9","year":1638.9,"val":174},{"id":"A9","year":1640.0,"val":167},{"id":"A9","year":1641.1,"val":174},{"id":"A9","year":1642.1,"val":160},{"id":"A9","year":1643.2,"val":123},{"id":"A9","year":1644.3,"val":91},{"id":"A9","year":1645.3,"val":118},{"id":"A9","year":1646.4,"val":140},{"id":"A9","year":1647.4,"val":174},{"id":"A9","year":1648.5,"val":118},{"id":"A9","year":1649.6,"val":95},{"id":"A9","year":1650.6,"val":95},{"id":"A9","year":1651.7,"val":109},{"id":"A9","year":1652.8,"val":118},{"id":"A9","year":1653.8,"val":198},{"id":"A9","year":1654.9,"val":225},{"id":"A9","year":1656.0,"val":198},{"id":"A9","year":1657.0,"val":167},{"id":"A9","year":1658.1,"val":147},{"id":"A9","year":1659.1,"val":134},{"id":"A9","year":1660.2,"val":140}
],
"labels": [
{"label":"A","year":1533.4,"val":5325},
{"label":"B","year":1533.8,"val":450},
{"label":"moy. LINS1-100","year":1541.7,"val":273},
{"label":"ref. Moselle","year":1532.6,"val":77.3}
]
},
"encoding": {
"x": {"field": "year", "type": "quantitative",
 "scale": {"domain": [1529.6, 1710], "nice": false, "zero": false},
 "axis": {"values": [1550, 1600, 1650, 1700], "format": "d", "title": "années AD", "grid": false,
  "tickSize": 4, "tickColor": "#33414a", "domainColor": "#33414a", "domainWidth": 1.6, "tickWidth": 1.2,
  "labelFontSize": 18, "labelColor": "#1c1c1c", "labelPadding": 2,
  "titleFontSize": 18, "titleFontWeight": "normal", "titleColor": "#1c1c1c",
  "titleX": 453, "titleY": 33, "titleBaseline": "middle", "titleAlign": "center"}}
},
"layer": [
{"data": {"name": "ringsA"},
 "mark": {"type": "line", "color": "#262626", "strokeWidth": 1.3},
 "encoding": {
  "y": {"field": "val", "type": "quantitative", "scale": {"type": "log", "domain": [5, 725], "nice": false}, "axis": null},
  "detail": {"field": "id", "type": "nominal"}}},
{"data": {"name": "ringsB"},
 "mark": {"type": "line", "strokeWidth": 1.7},
 "encoding": {
  "y": {"field": "val", "type": "quantitative", "scale": {"type": "log", "domain": [50, 7250], "nice": false},
   "axis": {"values": [50,60,70,80,90,100,200,300,400,500,600,700,800,900,1000,2000,3000,4000,5000,6000,7000],
    "labelExpr": "datum.value == 100 || datum.value == 1000 ? '100' : ''", "labelOverlap": false,
    "title": "valeurs 1/100mm", "grid": false,
    "tickSize": 7, "tickColor": "#4a6673", "domainColor": "#4a6673", "domainWidth": 1.3, "tickWidth": 1.2,
    "labelFontSize": 18, "labelColor": "#1c1c1c", "labelPadding": 3,
    "titleFontSize": 13.5, "titleFontWeight": "normal", "titleColor": "#3a2622",
    "titleX": -62, "titleY": 166, "titleBaseline": "middle", "titleAlign": "center", "titleAngle": 270}},
  "color": {"field": "id", "type": "nominal", "scale": {"domain": ["LINS", "Moselle"], "range": ["#e26b5f", "#2f5cd6"]}, "legend": null}}},
{"data": {"name": "labels"},
 "transform": [{"filter": "datum.label == 'A' || datum.label == 'B'"}],
 "mark": {"type": "text", "fontSize": 19, "fontWeight": "bold", "color": "#111111", "align": "center", "baseline": "middle"},
 "encoding": {
  "y": {"field": "val", "type": "quantitative", "scale": {"type": "log", "domain": [50, 7250], "nice": false}, "axis": null},
  "text": {"field": "label"}}},
{"data": {"name": "labels"},
 "transform": [{"filter": "datum.label == 'moy. LINS1-100'"}],
 "mark": {"type": "text", "fontSize": 14, "color": "#dc5f55", "align": "left", "baseline": "middle"},
 "encoding": {
  "y": {"field": "val", "type": "quantitative", "scale": {"type": "log", "domain": [50, 7250], "nice": false}, "axis": null},
  "text": {"field": "label"}}},
{"data": {"name": "labels"},
 "transform": [{"filter": "datum.label == 'ref. Moselle'"}],
 "mark": {"type": "text", "fontSize": 13.5, "fontWeight": "bold", "color": "#3a5fcf", "align": "left", "baseline": "middle"},
 "encoding": {
  "y": {"field": "val", "type": "quantitative", "scale": {"type": "log", "domain": [50, 7250], "nice": false}, "axis": null},
  "text": {"field": "label"}}}
],
"resolve": {"scale": {"y": "independent", "color": "independent"}}
}
